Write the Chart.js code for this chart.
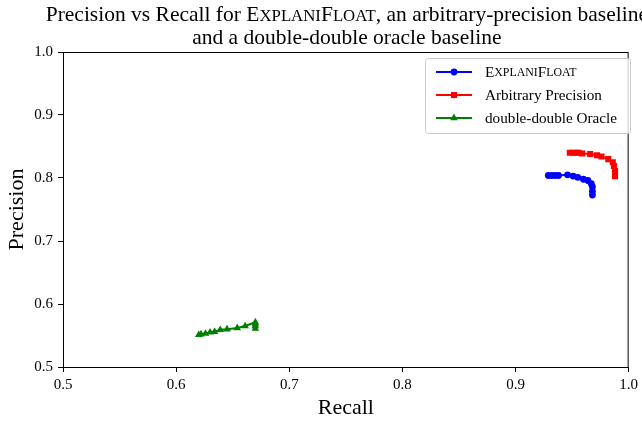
<!DOCTYPE html>
<html>
<head>
<meta charset="utf-8">
<script src="https://cdn.jsdelivr.net/npm/chart.js@4.4.1/dist/chart.umd.min.js"></script>
<style>
  html, body { margin: 0; padding: 0; background: #fff; }
  #wrap { width: 642px; height: 422px; }
</style>
</head>
<body>
<div id="wrap"><canvas id="prChart"></canvas></div>
<script>
// values
const explaniRecall = [0.929, 0.932, 0.935, 0.938, 0.946, 0.951, 0.955, 0.960, 0.964, 0.967, 0.968, 0.968, 0.968];
const explaniPrecision = [0.804, 0.804, 0.804, 0.804, 0.805, 0.803, 0.801, 0.798, 0.796, 0.791, 0.786, 0.779, 0.773];

const arbRecall = [0.948, 0.951, 0.954, 0.956, 0.959, 0.966, 0.972, 0.976, 0.982, 0.986, 0.987, 0.988, 0.988];
const arbPrecision = [0.840, 0.840, 0.840, 0.840, 0.839, 0.838, 0.836, 0.834, 0.830, 0.825, 0.819, 0.811, 0.803];

const ddRecall = [0.620, 0.622, 0.626, 0.630, 0.634, 0.639, 0.645, 0.654, 0.661, 0.670, 0.670, 0.670, 0.670];
const ddPrecision = [0.551, 0.552, 0.553, 0.555, 0.556, 0.559, 0.560, 0.562, 0.565, 0.571, 0.568, 0.565, 0.561];

const xTicks = [0.5, 0.6, 0.7, 0.8, 0.9, 1.0];
const yTicks = [0.5, 0.6, 0.7, 0.8, 0.9, 1.0];

const SERIF = "'Liberation Serif', 'DejaVu Serif', serif";

// small caps pieces for the tool name: [text, scale]
const explaniSC = [['E', 1], ['XPLANI', 0.78], ['F', 1], ['LOAT', 0.78]];

function toPoints(xs, ys) {
    return xs.map((x, i) => ({ x: x, y: ys[i] }));
}

// draws a run of [text, scale] pieces starting at x, returns width
function drawPieces(ctx, pieces, x, y, size, measureOnly) {
    let w = 0;
    pieces.forEach(([txt, s]) => {
        ctx.font = (size * s) + 'px ' + SERIF;
        if (!measureOnly) ctx.fillText(txt, x + w, y);
        w += ctx.measureText(txt).width;
    });
    return w;
}

const frameAndText = {
    id: 'frameAndText',
    afterDraw(chart) {
        const ctx = chart.ctx;
        const a = chart.chartArea;
        ctx.save();

        // box round the axes
        ctx.strokeStyle = '#000';
        ctx.lineWidth = 1;
        ctx.strokeRect(a.left + 0.5, a.top + 0.5, a.right - a.left - 1, a.bottom - a.top);

        // title, two lines centred over the axes
        ctx.fillStyle = '#000';
        ctx.textBaseline = 'alphabetic';
        ctx.textAlign = 'left';
        const ts = 21.5;
        const cx = (a.left + a.right) / 2 + 1;
        const line1 = [['Precision vs Recall for ', 1]].concat(explaniSC, [[', an arbitrary-precision baseline', 1]]);
        const w1 = drawPieces(ctx, line1, 0, 0, ts, true);
        drawPieces(ctx, line1, cx - w1 / 2, 21, ts, false);
        const line2 = [['and a double-double oracle baseline', 1]];
        const w2 = drawPieces(ctx, line2, 0, 0, ts, true);
        drawPieces(ctx, line2, cx - w2 / 2, 44, ts, false);

        // legend
        const lx = 425, ly = 58, lw = 205, lh = 75;
        ctx.fillStyle = 'rgba(255,255,255,0.8)';
        ctx.strokeStyle = '#cccccc';
        ctx.lineWidth = 1;
        ctx.beginPath();
        ctx.roundRect(lx + 0.5, ly + 0.5, lw, lh, 3);
        ctx.fill();
        ctx.stroke();

        const ls = 15.2;
        chart.data.datasets.forEach((ds, i) => {
            const rowY = ly + 14 + i * 23;
            ctx.strokeStyle = ds.borderColor;
            ctx.lineWidth = 2;
            ctx.beginPath();
            ctx.moveTo(436, rowY);
            ctx.lineTo(472, rowY);
            ctx.stroke();
            ctx.fillStyle = ds.backgroundColor;
            Chart.helpers.drawPoint(ctx, {
                pointStyle: ds.pointStyle,
                radius: ds.pointRadius,
                rotation: 0,
                borderWidth: 0
            }, 454, rowY);
            ctx.fillStyle = '#000';
            ctx.textBaseline = 'middle';
            const pieces = i === 0 ? explaniSC : [[ds.label, 1]];
            drawPieces(ctx, pieces, 485, rowY + 1, ls, false);
        });

        ctx.restore();
    }
};

const ctx = document.getElementById('prChart').getContext('2d');

new Chart(ctx, {
    type: 'scatter',
    data: {
        datasets: [{
            label: 'ExplaniFloat',
            data: toPoints(explaniRecall, explaniPrecision),
            showLine: true,
            borderColor: '#0000ff',
            backgroundColor: '#0000ff',
            borderWidth: 2,
            pointStyle: 'circle',
            pointRadius: 3.4,
            pointBorderWidth: 0
        }, {
            label: 'Arbitrary Precision',
            data: toPoints(arbRecall, arbPrecision),
            showLine: true,
            borderColor: '#ff0000',
            backgroundColor: '#ff0000',
            borderWidth: 2,
            pointStyle: 'rect',
            pointRadius: 4.3,
            pointBorderWidth: 0
        }, {
            label: 'double-double Oracle',
            data: toPoints(ddRecall, ddPrecision),
            showLine: true,
            borderColor: '#008000',
            backgroundColor: '#008000',
            borderWidth: 2,
            pointStyle: 'triangle',
            pointRadius: 4.4,
            pointBorderWidth: 0
        }]
    },
    options: {
        responsive: true,
        maintainAspectRatio: false,
        animation: false,
        layout: { padding: { top: 52, right: 10, left: 0, bottom: 0 } },
        plugins: {
            legend: { display: false },
            title: { display: false },
            tooltip: { enabled: false }
        },
        scales: {
            x: {
                type: 'linear',
                min: 0.5,
                max: 1.0,
                afterFit: s => { s.height = 55; },
                afterBuildTicks: s => { s.ticks = xTicks.map(v => ({ value: v })); },
                border: { display: true, color: '#000', width: 1 },
                grid: { drawOnChartArea: false, drawTicks: true, tickLength: 5, color: '#000' },
                ticks: {
                    color: '#000',
                    padding: 4,
                    maxRotation: 0,
                    font: { family: SERIF, size: 15 },
                    callback: v => v.toFixed(1)
                },
                title: {
                    display: true,
                    text: 'Recall',
                    color: '#000',
                    padding: { top: 4, bottom: 1 },
                    font: { family: SERIF, size: 22 }
                }
            },
            y: {
                type: 'linear',
                min: 0.5,
                max: 1.0,
                afterFit: s => { s.width = 63; },
                afterBuildTicks: s => { s.ticks = yTicks.map(v => ({ value: v })); },
                border: { display: true, color: '#000', width: 1 },
                grid: { drawOnChartArea: false, drawTicks: true, tickLength: 5, color: '#000' },
                ticks: {
                    color: '#000',
                    padding: 5,
                    font: { family: SERIF, size: 15 },
                    callback: v => v.toFixed(1)
                },
                title: {
                    display: true,
                    text: 'Precision',
                    color: '#000',
                    padding: { bottom: 0 },
                    font: { family: SERIF, size: 22 }
                }
            }
        }
    },
    plugins: [frameAndText]
});
</script>
</body>
</html>
